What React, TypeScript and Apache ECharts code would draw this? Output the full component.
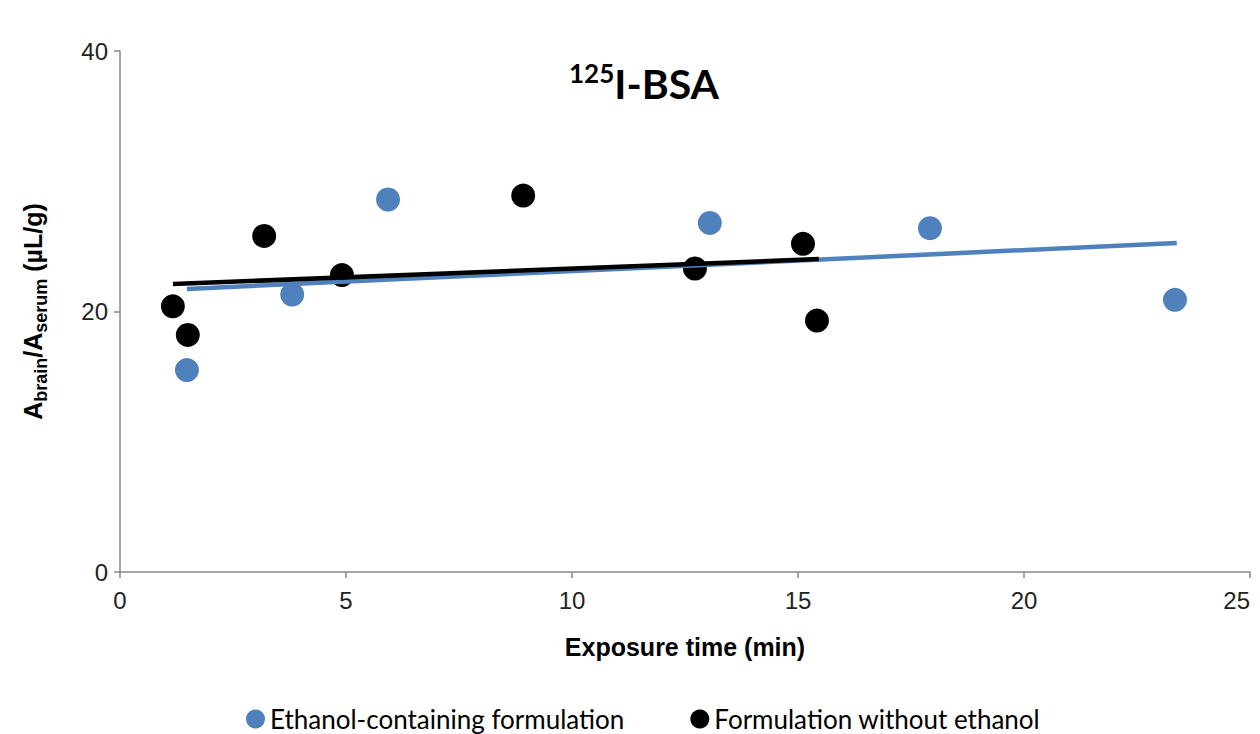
import React, { useEffect, useRef } from "react";
import * as echarts from "echarts";

const ethanolX = [1.48, 3.81, 5.93, 13.05, 17.92, 23.34];
const ethanolY = [15.5, 21.3, 28.6, 26.8, 26.4, 20.9];
const noEthanolX = [1.17, 1.5, 3.19, 4.91, 8.92, 12.72, 15.11, 15.42];
const noEthanolY = [20.4, 18.2, 25.8, 22.8, 28.9, 23.3, 25.2, 19.3];
// trend line end points
const ethanolTrendX = [1.48, 23.38];
const ethanolTrendY = [21.73, 25.26];
const noEthanolTrendX = [1.17, 15.46];
const noEthanolTrendY = [22.11, 24.03];

const seriesNames = ["Ethanol-containing formulation", "Formulation without ethanol"];
const BLUE = "#4F81BD";
const BLACK = "#000000";

const zip = (xs: number[], ys: number[]) => xs.map((x, i) => [x, ys[i]]);

export default function App() {
  const ref = useRef<HTMLDivElement>(null);
  useEffect(() => {
    if (!ref.current) return;
    const chart = echarts.init(ref.current, null, { renderer: "svg" });
    const axisFont = "'Liberation Sans', Arial, sans-serif";
    chart.setOption({
      animation: false,
      backgroundColor: "#ffffff",
      title: {
        text: "{sup|125}{main|I-BSA}",
        left: 564,
        top: 55,
        textStyle: {
          rich: {
            sup: { fontFamily: "Lato, sans-serif", fontWeight: "bold", fontSize: 26, color: "#000", lineHeight: 46, verticalAlign: "top" },
            main: { fontFamily: "Lato, sans-serif", fontWeight: "bold", fontSize: 41, color: "#000", lineHeight: 46, verticalAlign: "middle" },
          },
        },
      },
      grid: { left: 120, right: 10, top: 51, bottom: 162, outerBoundsMode: "none", containLabel: false },
      legend: {
        data: [
          { name: seriesNames[0], icon: "circle" },
          { name: seriesNames[1], icon: "circle" },
        ],
        left: 246,
        top: 706,
        padding: 0,
        itemWidth: 19,
        itemHeight: 19,
        itemGap: 66,
        textStyle: { fontFamily: "Lato, sans-serif", fontSize: 26, lineHeight: 26, color: "#000" },
      },
      xAxis: {
        type: "value",
        min: 0,
        max: 25,
        interval: 5,
        name: "Exposure time (min)",
        nameLocation: "middle",
        nameGap: 62,
        nameTextStyle: { fontFamily: axisFont, fontWeight: "bold", fontSize: 25, color: "#000" },
        axisLine: { show: true, onZero: false, lineStyle: { color: "#898989", width: 1.5 } },
        axisTick: { show: true, length: 6, lineStyle: { color: "#898989", width: 1.5 } },
        axisLabel: { fontFamily: axisFont, fontSize: 24, color: "#222", margin: 16, alignMaxLabel: "right" },
        splitLine: { show: false },
      },
      yAxis: {
        type: "value",
        min: 0,
        max: 40,
        interval: 20,
        name: "{m|A}{s|brain}{m|/A}{s|serum}{m| (µL/g)}",
        nameLocation: "middle",
        nameGap: 70,
        nameRotate: 90,
        nameTextStyle: {
          rich: {
            m: { fontFamily: axisFont, fontWeight: "bold", fontSize: 25, color: "#000", lineHeight: 34, verticalAlign: "middle" },
            s: { fontFamily: axisFont, fontWeight: "bold", fontSize: 18, color: "#000", lineHeight: 16, verticalAlign: "bottom" },
          },
        },
        axisLine: { show: true, lineStyle: { color: "#898989", width: 1.5 } },
        axisTick: { show: true, length: 6, lineStyle: { color: "#898989", width: 1.5 } },
        axisLabel: { fontFamily: axisFont, fontSize: 24, color: "#222", margin: 12 },
        splitLine: { show: false },
      },
      series: [
        {
          name: seriesNames[0],
          type: "scatter",
          symbol: "circle",
          symbolSize: 24,
          itemStyle: { color: BLUE, opacity: 1 },
          data: zip(ethanolX, ethanolY),
          z: 2,
        },
        {
          name: seriesNames[1],
          type: "scatter",
          symbol: "circle",
          symbolSize: 24,
          itemStyle: { color: BLACK, opacity: 1 },
          data: zip(noEthanolX, noEthanolY),
          z: 2,
        },
        {
          name: "ethanolTrend",
          type: "line",
          showSymbol: false,
          symbol: "none",
          lineStyle: { color: BLUE, width: 4.5 },
          data: zip(ethanolTrendX, ethanolTrendY),
          z: 3,
        },
        {
          name: "noEthanolTrend",
          type: "line",
          showSymbol: false,
          symbol: "none",
          lineStyle: { color: BLACK, width: 4.5 },
          data: zip(noEthanolTrendX, noEthanolTrendY),
          z: 4,
        },
      ],
    });
    return () => chart.dispose();
  }, []);
  return (
    <div
      ref={ref}
      style={{ position: "fixed", left: 0, top: 0, width: 1260, height: 734, background: "#fff" }}
    />
  );
}
